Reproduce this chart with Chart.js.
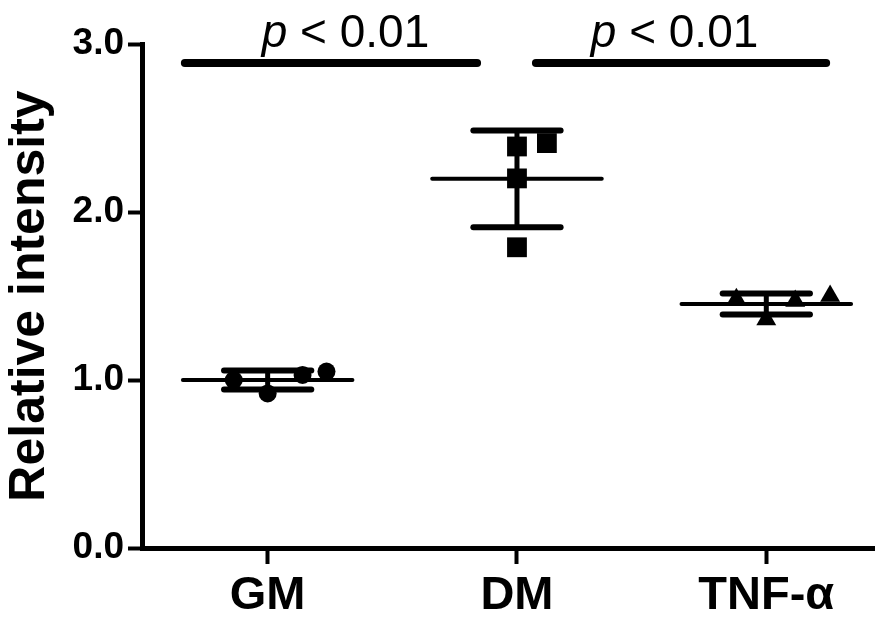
<!DOCTYPE html>
<html>
<head>
<meta charset="utf-8">
<script src="https://cdn.jsdelivr.net/npm/chart.js@4.4.0/dist/chart.umd.min.js"></script>
<style>
  html, body { margin: 0; padding: 0; background: #fff; }
  #wrap { width: 888px; height: 620px; }
</style>
</head>
<body>
<div id="wrap"><canvas id="scatter-chart"></canvas></div>
<script>
const FONT = '"Liberation Sans", Arial, sans-serif';

// groups and measured values
const categories = ['GM', 'DM', 'TNF-\u03b1'];
const gmValues = [1.00, 0.92, 1.03, 1.05];
const dmValues = [2.39, 2.20, 1.79, 2.41];
const tnfValues = [1.48, 1.36, 1.47, 1.50];
// horizontal scatter of the dots inside each column
const gmJitter = [-0.136, 0, 0.14, 0.236];
const dmJitter = [0, 0, 0, 0.12];
const tnfJitter = [-0.12, 0, 0.116, 0.256];

const yTickLabels = ['0.0', '1.0', '2.0', '3.0'];

// significance brackets
const sigSpans = [[-0.332, 0.84], [1.076, 2.24]];
const sigTextAt = [0.312, 1.632];
const sigLevel = 2.887;
const sigText = ['p', ' < 0.01'];

const groups = [
    { values: gmValues, jitter: gmJitter, style: 'circle', radius: 9 },
    { values: dmValues, jitter: dmJitter, style: 'rect', radius: 14 },
    { values: tnfValues, jitter: tnfJitter, style: 'triangle', radius: 11.5 },
];

const mean = (arr) => arr.reduce((a, b) => a + b, 0) / arr.length;
const sd = (arr) => {
    const m = mean(arr);
    return Math.sqrt(arr.reduce((a, b) => a + (b - m) * (b - m), 0) / (arr.length - 1));
};

/**
 * Mean line, SD bars and the p-value brackets
 */
const markupPlugin = {
    id: 'markup',
    afterDatasetsDraw(chart) {
        const { ctx, scales: { x, y } } = chart;
        ctx.save();
        ctx.strokeStyle = '#000';
        ctx.lineCap = 'round';

        groups.forEach((g, i) => {
            const m = mean(g.values);
            const s = sd(g.values);
            const line = (x0, x1, y0, y1, w) => {
                ctx.lineWidth = w;
                ctx.beginPath();
                ctx.moveTo(x.getPixelForValue(x0), y.getPixelForValue(y0));
                ctx.lineTo(x.getPixelForValue(x1), y.getPixelForValue(y1));
                ctx.stroke();
            };
            line(i - 0.34, i + 0.34, m, m, 4);
            line(i, i, m - s, m + s, 5);
            line(i - 0.175, i + 0.175, m + s, m + s, 6);
            line(i - 0.175, i + 0.175, m - s, m - s, 6);
        });

        sigSpans.forEach(([a, b], k) => {
            const py = y.getPixelForValue(sigLevel);
            ctx.lineWidth = 8;
            ctx.beginPath();
            ctx.moveTo(x.getPixelForValue(a), py);
            ctx.lineTo(x.getPixelForValue(b), py);
            ctx.stroke();

            const italic = 'italic 46px ' + FONT;
            const normal = '46px ' + FONT;
            ctx.font = italic;
            const w1 = ctx.measureText(sigText[0]).width;
            ctx.font = normal;
            const w2 = ctx.measureText(sigText[1]).width;
            const cx = x.getPixelForValue(sigTextAt[k]);
            const left = cx - (w1 + w2) / 2;
            ctx.fillStyle = '#000';
            ctx.textBaseline = 'alphabetic';
            ctx.textAlign = 'left';
            ctx.font = italic;
            ctx.fillText(sigText[0], left, py - 16);
            ctx.font = normal;
            ctx.fillText(sigText[1], left + w1, py - 16);
        });
        ctx.restore();
    },
};

const element = document.getElementById('scatter-chart');

const data = {
    datasets: groups.map((g, i) => ({
        label: categories[i],
        data: g.values.map((v, j) => ({ x: i + g.jitter[j], y: v })),
        pointStyle: g.style,
        pointRadius: g.radius,
        pointHoverRadius: g.radius,
        backgroundColor: '#000',
        borderColor: '#000',
        borderWidth: 0,
        clip: false,
    })),
};

new Chart(element, {
    type: 'scatter',
    data: data,
    plugins: [markupPlugin],
    options: {
        responsive: true,
        maintainAspectRatio: false,
        animation: false,
        layout: { padding: { top: 44, right: 0, left: 0, bottom: 0 } },
        plugins: {
            legend: { display: false },
            tooltip: { enabled: false },
        },
        scales: {
            x: {
                type: 'linear',
                min: -0.504,
                max: 2.432,
                afterBuildTicks: (scale) => {
                    scale.ticks = categories.map((c, i) => ({ value: i }));
                },
                afterFit: (scale) => { scale.height = 72; },
                ticks: {
                    callback: (value) => categories[value],
                    color: '#000',
                    font: { family: FONT, size: 47, weight: 'bold' },
                    padding: 4,
                    maxRotation: 0,
                    autoSkip: false,
                },
                grid: { drawOnChartArea: false, tickLength: 16, tickWidth: 4, color: '#000' },
                border: { width: 5, color: '#000' },
            },
            y: {
                min: 0,
                max: 3,
                afterFit: (scale) => { scale.width = 142; },
                ticks: {
                    stepSize: 1,
                    callback: (value, index) => yTickLabels[index],
                    color: '#000',
                    font: { family: FONT, size: 37, weight: 'bold' },
                    padding: 4,
                },
                grid: { drawOnChartArea: false, tickLength: 14, tickWidth: 4, color: '#000' },
                border: { width: 5, color: '#000' },
                title: {
                    display: true,
                    text: 'Relative intensity',
                    color: '#000',
                    font: { family: FONT, size: 50, weight: 'bold' },
                    padding: { top: 0, bottom: 0 },
                },
            },
        },
    },
});
</script>
</body>
</html>
